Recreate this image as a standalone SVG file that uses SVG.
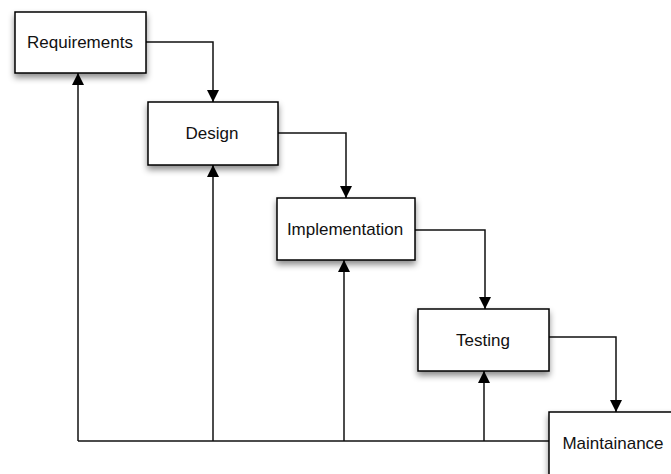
<svg xmlns="http://www.w3.org/2000/svg" width="671" height="474" viewBox="0 0 671 474">
  <defs>
    <filter id="shadow" x="-20%" y="-20%" width="140%" height="150%">
      <feDropShadow dx="0" dy="4" stdDeviation="3" flood-color="#000" flood-opacity="0.45"/>
    </filter>
    <marker id="arrow" markerUnits="userSpaceOnUse" markerWidth="12" markerHeight="12" viewBox="0 0 12 12" refX="12" refY="6" orient="auto">
      <path d="M0,0 L12,6 L0,12 z" fill="#000"/>
    </marker>
    <style>
      .box { fill: #fff; stroke: #000; stroke-width: 1.5; filter: url(#shadow); }
      .label { font-family: "Liberation Sans", Arial, sans-serif; font-size: 17px; fill: #111; text-anchor: middle; }
      .edge { fill: none; stroke: #111; stroke-width: 1.5; }
      .head { marker-end: url(#arrow); }
    </style>
  </defs>
  <rect width="671" height="474" fill="#fff"/>

  <g id="connectors">
    <!-- forward flow between phases -->
    <path class="edge head" d="M146,42 H213 V102"/>
    <path class="edge head" d="M278,133 H346 V198"/>
    <path class="edge head" d="M415,230 H485 V309"/>
    <path class="edge head" d="M549,337 H616 V412"/>
    <!-- feedback from maintenance back to every phase -->
    <path class="edge" d="M549,441 H78"/>
    <path class="edge head" d="M78,441 V73"/>
    <path class="edge head" d="M213,441 V165"/>
    <path class="edge head" d="M344,441 V260"/>
    <path class="edge head" d="M484,441 V371"/>
  </g>

  <g id="requirements">
    <rect class="box" x="15" y="12" width="131" height="61"/>
    <text class="label" x="80" y="48">Requirements</text>
  </g>
  <g id="design">
    <rect class="box" x="148" y="102" width="130" height="63"/>
    <text class="label" x="212" y="139">Design</text>
  </g>
  <g id="implementation">
    <rect class="box" x="277" y="198" width="138" height="62"/>
    <text class="label" x="345" y="235">Implementation</text>
  </g>
  <g id="testing">
    <rect class="box" x="418" y="309" width="131" height="62"/>
    <text class="label" x="483" y="346">Testing</text>
  </g>
  <g id="maintainance">
    <rect class="box" x="549" y="412" width="135" height="70"/>
    <text class="label" x="613" y="449">Maintainance</text>
  </g>
</svg>
